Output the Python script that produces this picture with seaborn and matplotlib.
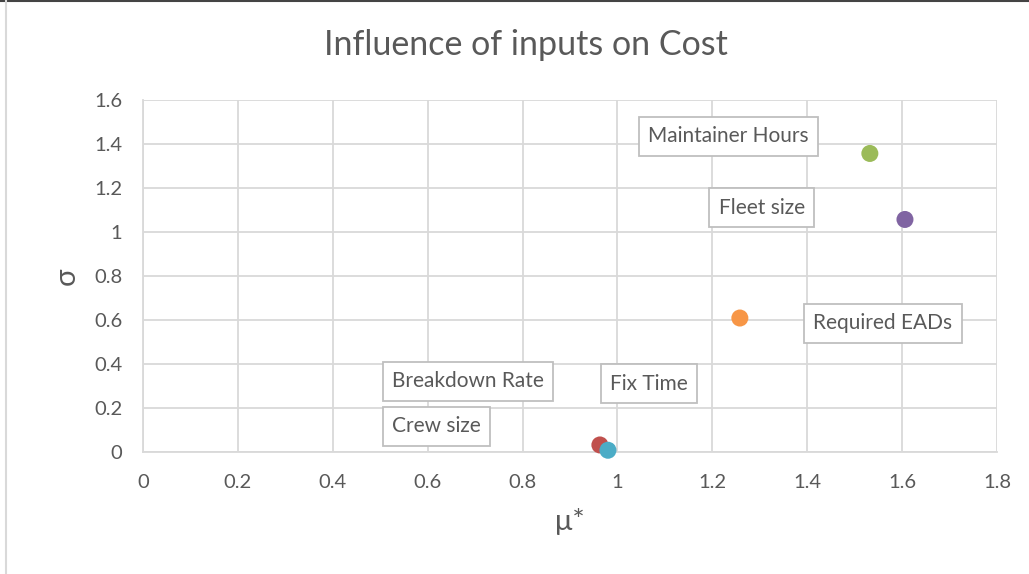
import matplotlib
matplotlib.use("Agg")
import matplotlib.pyplot as plt
import seaborn as sns
import pandas as pd
from matplotlib.lines import Line2D

# data
inputs = ["Breakdown Rate", "Maintainer Hours", "Fleet size", "Crew size", "Required EADs"]
mu_star = [0.963, 1.532, 1.606, 0.980, 1.258]
sigma = [0.032, 1.357, 1.057, 0.008, 0.609]
colors = ["#C0504D", "#9BBB59", "#8064A2", "#4BACC6", "#F79646"]

# label boxes (text, x, y in data coords, left-anchored, centered vertically)
label_text = ["Maintainer Hours", "Fleet size", "Required EADs", "Breakdown Rate", "Fix Time", "Crew size"]
label_x = [1.065, 1.213, 1.413, 0.525, 0.985, 0.525]
label_y = [1.435, 1.11, 0.585, 0.322, 0.31, 0.117]

xticks = [0, 0.2, 0.4, 0.6, 0.8, 1, 1.2, 1.4, 1.6, 1.8]
yticks = [0, 0.2, 0.4, 0.6, 0.8, 1, 1.2, 1.4, 1.6]

sns.set_theme(style="white")
plt.rcParams['font.family'] = ['Lato', 'DejaVu Sans']

df = pd.DataFrame({"input": inputs, "mu": mu_star, "sigma": sigma})

fig = plt.figure(figsize=(10.29, 5.74), dpi=100)
ax = fig.add_axes([143/1029, 1-452/574, (997-143)/1029, (452-100)/574])

sns.scatterplot(data=df, x="mu", y="sigma", hue="input", palette=colors,
                s=150, edgecolor="none", legend=False, ax=ax, zorder=5, clip_on=False)

ax.set_xlim(0, 1.8)
ax.set_ylim(0, 1.6)
ax.set_xticks(xticks)
ax.set_yticks(yticks)
fmt = lambda v: ("%g" % v)
ax.set_xticklabels([fmt(v) for v in xticks])
ax.set_yticklabels([fmt(v) for v in yticks])
ax.tick_params(axis="x", colors="#595959", labelsize=14.5, length=0, pad=16)
ax.tick_params(axis="y", colors="#595959", labelsize=14.5, length=0, pad=15)
ax.grid(True, color="#D9D9D9", linewidth=1.3)
ax.set_axisbelow(True)
for s in ax.spines.values():
    s.set_visible(False)
for side in ["bottom", "left"]:
    ax.spines[side].set_visible(True)
    ax.spines[side].set_color("#D9D9D9")
    ax.spines[side].set_linewidth(1.3)

ax.set_xlabel("μ*", fontsize=21, color="#595959", labelpad=12)
ax.set_ylabel("σ", fontsize=21, color="#595959", labelpad=10)

for t, x, y in zip(label_text, label_x, label_y):
    ax.text(x, y, t, fontsize=15, color="#595959", ha="left", va="center", zorder=6,
            bbox=dict(boxstyle="square,pad=0.45", facecolor="white", edgecolor="#BFBFBF", linewidth=1.3))

fig.text(526/1029, 1-45/574, "Influence of inputs on Cost", fontsize=24.5, color="#595959",
         ha="center", va="center")

# chart frame lines
fig.add_artist(Line2D([0, 1], [0.999, 0.999], color="#444444", linewidth=1.5, transform=fig.transFigure))
fig.add_artist(Line2D([6/1029, 6/1029], [0, 1], color="#D9D9D9", linewidth=1.5, transform=fig.transFigure))

fig.savefig("out.png", dpi=100)
